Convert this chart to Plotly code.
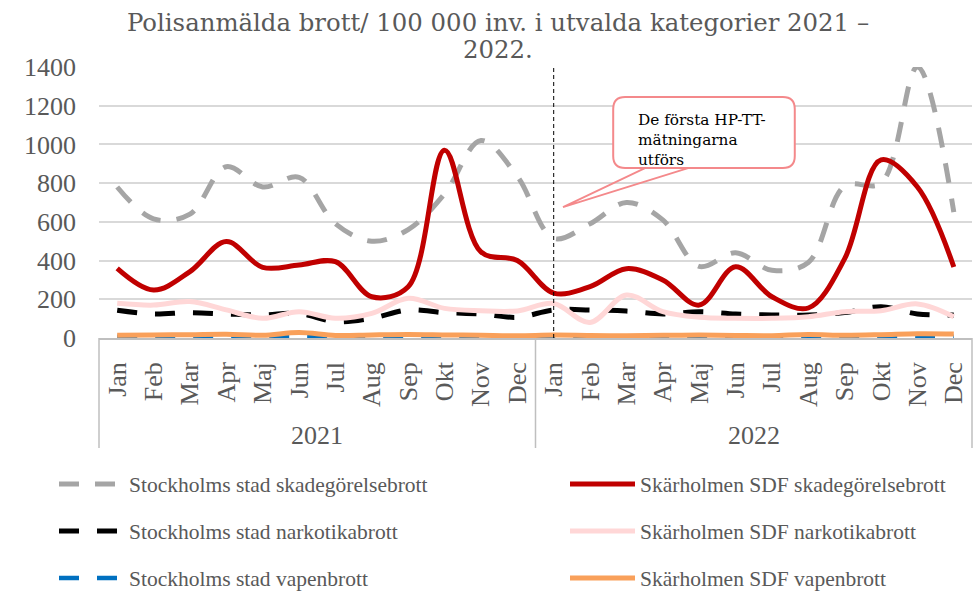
import plotly.graph_objects as go

# ---------------- data ----------------
months = ["Jan", "Feb", "Mar", "Apr", "Maj", "Jun", "Jul", "Aug", "Sep", "Okt", "Nov", "Dec"]
years = ["2021", "2022"]
tick_labels = months + months

sthlm_skade = [780, 615, 640, 885, 780, 830, 590, 500, 560, 745, 1020, 835,
               515, 590, 700, 610, 370, 440, 350, 390, 785, 800, 1400, 650]
skarh_skade = [360, 248, 343, 498, 365, 377, 394, 213, 265, 970, 445, 400,
               232, 265, 358, 300, 170, 368, 213, 155, 410, 920, 780, 367]
sthlm_narko = [143, 124, 131, 124, 119, 127, 84, 102, 145, 131, 124, 107,
               145, 145, 139, 124, 136, 124, 119, 119, 131, 162, 124, 119]
skarh_narko = [179, 170, 188, 145, 102, 136, 102, 127, 205, 153, 141, 140,
               178, 80, 222, 136, 107, 102, 102, 110, 136, 141, 176, 110]
sthlm_vapen = [6, 5, 7, 5, 6, 9, 5, 6, 5, 6, 5, 5,
               6, 5, 6, 5, 6, 5, 6, 5, 6, 6, 8, 6]
skarh_vapen = [14, 16, 17, 19, 14, 28, 13, 16, 18, 16, 14, 12,
               15, 13, 12, 14, 15, 13, 12, 18, 14, 17, 22, 21]

series_names = [
    "Stockholms stad skadegörelsebrott", "Skärholmen SDF skadegörelsebrott",
    "Stockholms stad narkotikabrott", "Skärholmen SDF narkotikabrott",
    "Stockholms stad vapenbrott", "Skärholmen SDF vapenbrott",
]
series_values = [sthlm_skade, skarh_skade, sthlm_narko, skarh_narko, sthlm_vapen, skarh_vapen]
series_colors = ["#A5A5A5", "#C00000", "#000000", "#FFD7D7", "#0070C0", "#F9A05A"]
series_dash = ["20px,16px", "solid", "20px,18px", "solid", "20px,18px", "solid"]
series_width = [5, 5, 5, 5, 4.5, 5]

title_line1 = "Polisanmälda brott/ 100 000 inv. i utvalda kategorier 2021 –"
title_line2 = "2022."
callout_text = "De första HP-TT-<br>mätningarna<br>utförs"

FONT = "Liberation Serif"
TFONT = "DejaVu Serif"
GREY_TXT = "#595959"

x_idx = list(range(len(tick_labels)))

# one legend per entry: 2 columns x 3 rows
legend_ids = ["legend", "legend2", "legend3", "legend4", "legend5", "legend6"]
legend_cols_px = [54, 565]
legend_rows_px = [484, 531, 578]

fig = go.Figure()
for k, (name, vals, col, dash, w) in enumerate(zip(series_names, series_values, series_colors,
                                                  series_dash, series_width)):
    fig.add_trace(go.Scatter(
        x=x_idx, y=vals, name=name, mode="lines",
        line=dict(color=col, width=w, dash=dash, shape="spline", smoothing=1.0),
        legend=legend_ids[k], hoverinfo="name+y",
    ))

legend_layout = {}
for k, lid in enumerate(legend_ids):
    legend_layout[lid] = dict(
        orientation="h", xref="container", yref="container",
        xanchor="left", yanchor="middle",
        x=legend_cols_px[k % 2] / 977, y=1 - legend_rows_px[k // 2] / 594,
        itemwidth=65,
        font=dict(family=FONT, size=21.5, color=GREY_TXT),
        bgcolor="rgba(0,0,0,0)",
    )

# rounded callout box in paper coords
x0, x1, y0, y1 = 0.589, 0.797, 0.627, 0.889
rx, ry = 0.0137, 0.0443
box_path = (f"M {x0+rx},{y0} L {x1-rx},{y0} Q {x1},{y0} {x1},{y0+ry} "
            f"L {x1},{y1-ry} Q {x1},{y1} {x1-rx},{y1} L {x0+rx},{y1} "
            f"Q {x0},{y1} {x0},{y1-ry} L {x0},{y0+ry} Q {x0},{y0} {x0+rx},{y0} Z")
tail_path = "M 0.6254,0.627 L 0.5315,0.483 L 0.6747,0.627"

shapes = [
    dict(type="line", xref="paper", yref="paper", x0=0, x1=0, y0=0, y1=-0.406,
         line=dict(color="#BFBFBF", width=1.5)),
    dict(type="line", xref="paper", yref="paper", x0=0.5, x1=0.5, y0=0, y1=-0.406,
         line=dict(color="#BFBFBF", width=1.5)),
    dict(type="line", xref="paper", yref="paper", x0=1, x1=1, y0=0, y1=-0.406,
         line=dict(color="#BFBFBF", width=1.5)),
    dict(type="line", xref="x", yref="y", x0=12, x1=12, y0=0, y1=1400,
         line=dict(color="black", width=1, dash="4px,3px")),
    dict(type="path", xref="paper", yref="paper", path=tail_path,
         line=dict(color="#F4898B", width=1.8), fillcolor="rgba(0,0,0,0)"),
    dict(type="path", xref="paper", yref="paper", path=box_path,
         line=dict(color="#F4898B", width=2), fillcolor="white"),
]

annotations = [
    dict(text=title_line2, xref="paper", yref="paper", x=0.457, y=1.063,
         xanchor="center", yanchor="middle",
         showarrow=False, font=dict(family=TFONT, size=24.4, color=GREY_TXT)),
    dict(text=callout_text, xref="paper", yref="paper", x=0.615, y=0.845,
         xanchor="left", yanchor="top", align="left", showarrow=False,
         font=dict(family=TFONT, size=15.3, color="black")),
]
for i, yr in enumerate(years):
    annotations.append(dict(text=yr, xref="x", yref="paper", x=5.5 + 12 * i, y=-0.358,
                            xanchor="center", yanchor="middle",
                            showarrow=False, font=dict(family=FONT, size=26, color=GREY_TXT)))

fig.update_layout(
    width=977, height=594,
    margin=dict(l=99, r=5, t=67, b=256),
    paper_bgcolor="white", plot_bgcolor="white",
    title=dict(text=title_line1, xref="container", yref="container",
               x=498 / 977, y=1 - 22 / 594, xanchor="center", yanchor="middle",
               font=dict(family=TFONT, size=24.4, color=GREY_TXT)),
    xaxis=dict(range=[-0.5, 23.5], tickvals=x_idx, ticktext=tick_labels,
               tickangle=-90, showgrid=False, zeroline=False,
               showline=True, linecolor="#BFBFBF", linewidth=1.5,
               ticks="", ticklabelstandoff=12,
               tickfont=dict(family=FONT, size=26, color=GREY_TXT)),
    yaxis=dict(range=[0, 1400], dtick=200, showgrid=True, gridcolor="#D9D9D9",
               gridwidth=1.5, zeroline=False, showline=False, ticks="",
               ticklabelstandoff=22,
               tickfont=dict(family=FONT, size=26, color=GREY_TXT)),
    shapes=shapes,
    annotations=annotations,
    showlegend=True,
    **legend_layout,
)

fig.write_html("out.html", config={"displayModeBar": False},
               post_script="document.body.style.margin='0';")
